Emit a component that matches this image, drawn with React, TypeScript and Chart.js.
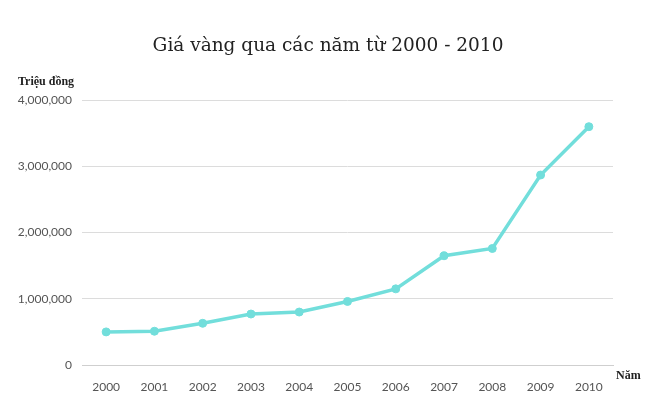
import { useEffect, useRef } from 'react';
import { Chart, registerables } from 'chart.js';

Chart.register(...registerables);

const years = ['2000', '2001', '2002', '2003', '2004', '2005', '2006', '2007', '2008', '2009', '2010'];
const prices = [500000, 510000, 630000, 770000, 800000, 960000, 1150000, 1650000, 1760000, 2870000, 3600000];

const titleText = 'Giá vàng qua các năm từ 2000 - 2010';
const yUnit = 'Triệu đồng';
const xUnit = 'Năm';

// draws the two small axis captions ("Triệu đồng" above the y axis, "Năm" after the x axis)
const axisCaptions = {
  id: 'axisCaptions',
  afterDraw(chart: Chart) {
    const { ctx, chartArea } = chart;
    ctx.save();
    ctx.fillStyle = '#222';
    ctx.font = 'bold 12px "Liberation Serif", serif';
    ctx.textBaseline = 'middle';
    ctx.textAlign = 'left';
    ctx.fillText(yUnit, 18, chartArea.top - 18);
    ctx.fillText(xUnit, chartArea.right + 3, chartArea.bottom + 11);
    ctx.restore();
  }
};

export default function App() {
  const canvasRef = useRef<HTMLCanvasElement>(null);
  const chartRef = useRef<Chart | null>(null);

  useEffect(() => {
    if (!canvasRef.current) return;
    if (chartRef.current) chartRef.current.destroy();

    chartRef.current = new Chart(canvasRef.current, {
      type: 'line',
      data: {
        labels: years,
        datasets: [
          {
            data: prices,
            borderColor: '#72dedb',
            backgroundColor: '#72dedb',
            borderWidth: 3.5,
            pointRadius: 4,
            pointBorderWidth: 1,
            pointHoverRadius: 4,
            tension: 0
          }
        ]
      },
      options: {
        responsive: false,
        animation: false,
        layout: { padding: 0 },
        plugins: {
          legend: { display: false },
          tooltip: { enabled: false },
          title: {
            display: true,
            text: titleText,
            color: '#222',
            font: { family: '"DejaVu Serif", serif', size: 18.5, weight: 'normal' },
            padding: { top: 35, bottom: 43 }
          }
        },
        scales: {
          x: {
            offset: true,
            grid: { display: false },
            border: { display: true, color: '#cfcfcf', width: 1 },
            ticks: {
              color: '#555',
              font: { family: 'Lato, sans-serif', size: 12 },
              padding: 7,
              maxRotation: 0
            },
            afterFit: (scale: any) => {
              scale.height = 35;
            }
          },
          y: {
            min: 0,
            max: 4000000,
            grid: { color: '#dcdcdc', drawTicks: false },
            border: { display: false },
            ticks: {
              stepSize: 1000000,
              color: '#555',
              font: { family: 'Lato, sans-serif', size: 12 },
              padding: 10,
              callback: (v: any) => Number(v).toLocaleString('en-US')
            },
            afterFit: (scale: any) => {
              scale.width = 82;
            }
          },
          // empty right-hand axis: keeps room for "Năm" so the title stays centred on the page
          yRight: {
            position: 'right',
            min: 0,
            max: 4000000,
            grid: { display: false },
            border: { display: false },
            ticks: { display: false },
            afterFit: (scale: any) => {
              scale.width = 43;
            }
          }
        }
      },
      plugins: [axisCaptions]
    });

    return () => {
      if (chartRef.current) {
        chartRef.current.destroy();
        chartRef.current = null;
      }
    };
  }, []);

  return (
    <div style={{ position: 'absolute', left: 0, top: 0, width: 656, height: 400, background: '#fff' }}>
      <canvas ref={canvasRef} width="656" height="400" />
    </div>
  );
}
